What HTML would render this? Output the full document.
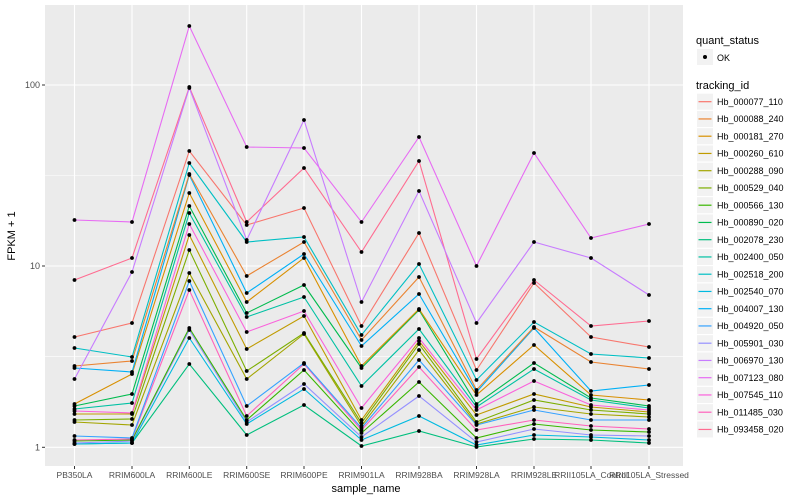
<!DOCTYPE html>
<html><head><meta charset="utf-8"><style>body{margin:0;background:#fff}svg{display:block;font-family:"Liberation Sans",sans-serif}</style></head><body>
<svg width="800" height="500" viewBox="0 0 800 500" xmlns="http://www.w3.org/2000/svg">
<rect x="0" y="0" width="800" height="500" fill="#fff"/>
<rect x="45" y="5" width="638" height="461" fill="#EBEBEB"/>
<g stroke="#fff" stroke-width="0.6"><line x1="45" x2="683" y1="175.5" y2="175.5"/><line x1="45" x2="683" y1="356.7" y2="356.7"/></g>
<g stroke="#fff" stroke-width="1.1">
<line x1="45" x2="683" y1="85" y2="85"/><line x1="45" x2="683" y1="266" y2="266"/><line x1="45" x2="683" y1="447.3" y2="447.3"/>
<line x1="74.5" x2="74.5" y1="5" y2="466"/><line x1="132" x2="132" y1="5" y2="466"/><line x1="189.3" x2="189.3" y1="5" y2="466"/><line x1="246.7" x2="246.7" y1="5" y2="466"/><line x1="304" x2="304" y1="5" y2="466"/><line x1="361.5" x2="361.5" y1="5" y2="466"/><line x1="419" x2="419" y1="5" y2="466"/><line x1="476.5" x2="476.5" y1="5" y2="466"/><line x1="534" x2="534" y1="5" y2="466"/><line x1="591" x2="591" y1="5" y2="466"/><line x1="649" x2="649" y1="5" y2="466"/>
</g>
<g id="lines" fill="none" stroke-width="1.1"></g>
<g id="pts" fill="#000"></g>
<g stroke="#333" stroke-width="1">
<line x1="42" x2="45" y1="85" y2="85"/><line x1="42" x2="45" y1="266" y2="266"/><line x1="42" x2="45" y1="447.3" y2="447.3"/>
</g>
<g id="xt" stroke="#333"></g>
<g font-size="9" fill="#4d4d4d" text-anchor="end"><text x="40" y="88">100</text><text x="40" y="269">10</text><text x="40" y="450.5">1</text></g>
<g id="xl" font-size="8.5" fill="#4d4d4d" text-anchor="middle"></g>
<text x="366" y="492" font-size="11" text-anchor="middle" fill="#000">sample_name</text>
<text transform="translate(15,236) rotate(-90)" font-size="11" text-anchor="middle" fill="#000">FPKM + 1</text>
<text x="696" y="44" font-size="11" fill="#000">quant_status</text>
<rect x="697" y="49" width="16" height="16" fill="#F2F2F2"/><circle cx="705" cy="57" r="2" fill="#000"/>
<text x="717" y="61" font-size="9" fill="#000">OK</text>
<text x="696" y="89" font-size="11" fill="#000">tracking_id</text>
<g id="leg"></g>
</svg>
<script>
var xs=[74.5,132,189.3,246.7,304,361.5,419,476.5,534,591,649];
var names=["PB350LA","RRIM600LA","RRIM600LE","RRIM600SE","RRIM600PE","RRIM901LA","RRIM928BA","RRIM928LA","RRIM928LE","RRII105LA_Control","RRII105LA_Stressed"];
var legC=["#F8766D","#EA8331","#D89000","#C09B00","#A3A500","#7CAE00","#39B600","#00BB4E","#00BF7D","#00C1A3","#00BFC4","#00BAE0","#00B0F6","#35A2FF","#9590FF","#C77CFF","#E76BF3","#FA62DB","#FF62BC","#FF6C91"];
var legN=["Hb_000077_110","Hb_000088_240","Hb_000181_270","Hb_000260_610","Hb_000288_090","Hb_000529_040","Hb_000566_130","Hb_000890_020","Hb_002078_230","Hb_002400_050","Hb_002518_200","Hb_002540_070","Hb_004007_130","Hb_004920_050","Hb_005901_030","Hb_006970_130","Hb_007123_080","Hb_007545_110","Hb_011485_030","Hb_093458_020"];
var series=[
["#E76BF3",[220,222,26,147,148,222,137,266,153,238,224]],
["#C77CFF",[379,272,88,240,120,302,191,323,242,258,295]],
["#FF6C91",[280,258,87,222,168,252,161,359,280,326,321]]];
var cols=[
[337,348,366,368,404,406,409,411,414,420,422,436,440,441,443,444,444],
[323,357,361,372,374,394,403,413,414,419,425,438,439,440,441,443,443],
[151,163,174,175,193,206,213,224,235,250,273,281,290,328,330,338,364],
[225,242,276,293,302,313,317,332,349,371,379,406,416,420,422,424,435],
[208,237,242,254,258,285,297,311,316,333,334,363,364,370,384,389,405],
[326,335,340,346,366,368,386,408,420,423,426,428,430,433,437,440,446],
[233,264,277,294,309,310,329,338,341,344,350,360,367,382,396,416,431],
[370,380,390,392,395,404,407,410,415,422,424,425,430,438,442,445,447],
[283,322,327,328,345,363,369,381,394,400,407,410,420,424,429,435,439],
[337,354,362,391,395,398,400,405,407,410,414,420,426,430,435,437,440],
[347,358,369,385,400,406,408,410,412,414,417,420,429,432,436,440,443]];
var rc=["#F8766D","#00BFC4","#EA8331","#00B0F6","#D89000","#00BB4E","#00C1A3","#FA62DB","#C09B00","#7CAE00","#A3A500","#35A2FF","#FF62BC","#39B600","#9590FF","#00BAE0","#00BF7D"];
for(var r=0;r<17;r++){var ys=[];for(var c=0;c<11;c++)ys.push(cols[c][r]);series.push([rc[r],ys]);}
var NS="http://www.w3.org/2000/svg";
var L=document.getElementById("lines"),P=document.getElementById("pts");
series.slice().reverse().forEach(function(s){var p=document.createElementNS(NS,"polyline");p.setAttribute("points",s[1].map(function(y,i){return xs[i]+","+y}).join(" "));p.setAttribute("stroke",s[0]);L.appendChild(p);
s[1].forEach(function(y,i){var e=document.createElementNS(NS,"circle");e.setAttribute("cx",xs[i]);e.setAttribute("cy",y);e.setAttribute("r",1.9);P.appendChild(e);});});
var XT=document.getElementById("xt"),XL=document.getElementById("xl");
xs.forEach(function(x,i){var l=document.createElementNS(NS,"line");l.setAttribute("x1",x);l.setAttribute("x2",x);l.setAttribute("y1",466);l.setAttribute("y2",469);XT.appendChild(l);
var t=document.createElementNS(NS,"text");t.setAttribute("x",x);t.setAttribute("y",478);t.textContent=names[i];XL.appendChild(t);});
var G=document.getElementById("leg");
legC.forEach(function(c,i){var y=101.7+i*17.25;var b=document.createElementNS(NS,"rect");b.setAttribute("x",697);b.setAttribute("y",y-8);b.setAttribute("width",16);b.setAttribute("height",16);b.setAttribute("fill","#F2F2F2");G.appendChild(b);
var l=document.createElementNS(NS,"line");l.setAttribute("x1",698.5);l.setAttribute("x2",711.5);l.setAttribute("y1",y);l.setAttribute("y2",y);l.setAttribute("stroke",c);l.setAttribute("stroke-width",1.2);G.appendChild(l);
var t=document.createElementNS(NS,"text");t.setAttribute("x",717);t.setAttribute("y",y+3.2);t.setAttribute("font-size",9);t.textContent=legN[i];G.appendChild(t);});
</script>
</body></html>
